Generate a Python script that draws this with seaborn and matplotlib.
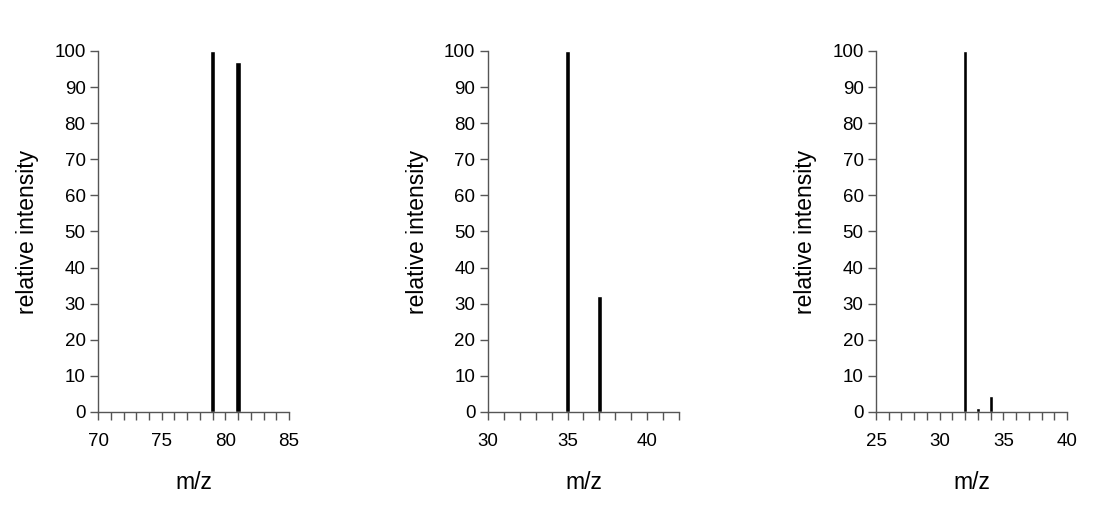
import matplotlib
matplotlib.use("Agg")
import matplotlib.pyplot as plt
from matplotlib.ticker import MultipleLocator
import seaborn as sns
import pandas as pd

# 세 개의 질량 스펙트럼 (m/z , 상대 세기)
mz_1 = [79, 81]
int_1 = [100, 97]

mz_2 = [35, 37]
int_2 = [100, 32]

mz_3 = [32, 33, 34]
int_3 = [100, 1, 4.5]

xlims = [(70, 85), (30, 42), (25, 40)]
widths = [0.22, 0.17, 0.3]   # native_scale 에서 최소 간격에 곱해짐

sns.set_theme(style = "ticks")
plt.rcParams["font.family"] = ["Liberation Sans", "DejaVu Sans"]
plt.rcParams["text.color"] = "black"
plt.rcParams["axes.labelcolor"] = "black"
plt.rcParams["xtick.labelcolor"] = "black"
plt.rcParams["ytick.labelcolor"] = "black"

fig = plt.figure(figsize = (11.04, 5.16), dpi = 100)
lefts = [0.0888, 0.442, 0.7935]

spectra = [(mz_1, int_1), (mz_2, int_2), (mz_3, int_3)]
for i, (mz, inten) in enumerate(spectra):
    ax = fig.add_axes([lefts[i], 0.2016, 0.173, 0.6996])
    df = pd.DataFrame({"mz": mz, "intensity": inten})
    sns.barplot(data = df, x = "mz", y = "intensity", native_scale = True,
                width = widths[i], color = "black", saturation = 1, ax = ax)
    ax.set_xlim(xlims[i])
    ax.set_ylim(0, 100)
    ax.yaxis.set_major_locator(MultipleLocator(10))
    ax.xaxis.set_major_locator(MultipleLocator(5))
    ax.xaxis.set_minor_locator(MultipleLocator(1))
    ax.tick_params(axis = "x", which = "both", direction = "out", length = 6, width = 1, color = "#555555", labelsize = 13.5, pad = 9)
    ax.tick_params(axis = "y", direction = "out", length = 6, width = 1, color = "#555555", labelsize = 13.5, pad = 3)
    for s in ["top", "right"]:
        ax.spines[s].set_visible(False)
    for s in ["left", "bottom"]:
        ax.spines[s].set_color("#555555")
        ax.spines[s].set_linewidth(1)
    ax.set_xlabel("m/z", fontsize = 16.5, labelpad = 15)
    ax.set_ylabel("relative intensity", fontsize = 16.5, labelpad = 11)

fig.savefig("out.png", dpi = 100)
